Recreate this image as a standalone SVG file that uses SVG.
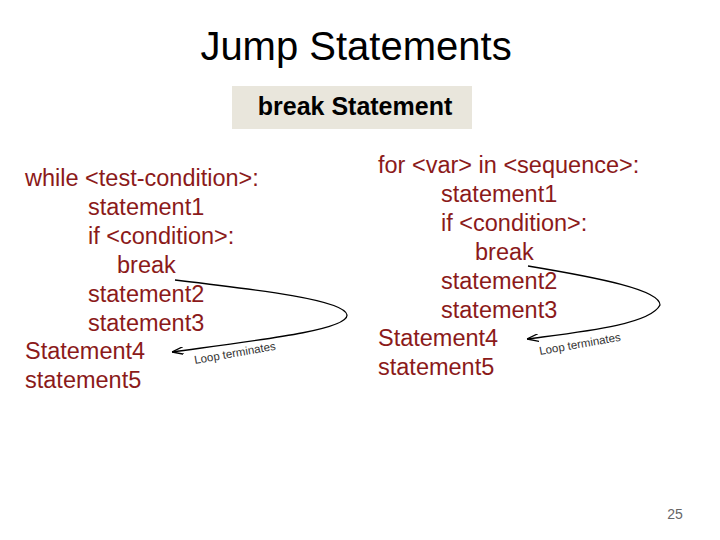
<svg xmlns="http://www.w3.org/2000/svg" width="720" height="540" viewBox="0 0 720 540">
<style>
.c{font-family:"Liberation Sans",Arial,sans-serif;font-size:23.5px;fill:#8b1a1a}
.t{font-family:"Liberation Sans",Arial,sans-serif;fill:#000}
.lt{font-family:"Liberation Sans",Arial,sans-serif;font-size:11.5px;fill:#333}
.a{fill:none;stroke:#000;stroke-width:1.3}
</style>
<defs><marker id="ah" markerWidth="12" markerHeight="8" refX="12" refY="4" orient="auto" markerUnits="userSpaceOnUse"><path d="M0,0 L12,4 L0,8" fill="none" stroke="#000" stroke-width="1.3"/></marker></defs>
<rect width="720" height="540" fill="#fff"/>
<text class="t" x="356" y="60" font-size="40" text-anchor="middle">Jump Statements</text>
<g id="box"><rect x="232" y="86" width="240" height="43" fill="#e9e6dc"/>
<text class="t" x="355" y="115" font-size="25" font-weight="bold" text-anchor="middle">break Statement</text></g>
<g id="left" class="c">
<text x="25" y="186">while &lt;test-condition&gt;:</text>
<text x="88" y="215">statement1</text>
<text x="88" y="244">if &lt;condition&gt;:</text>
<text x="117" y="273">break</text>
<text x="88" y="302">statement2</text>
<text x="88" y="331">statement3</text>
<text x="25" y="359">Statement4</text>
<text x="25" y="388">statement5</text>
</g>
<g id="right" class="c">
<text x="378" y="173">for &lt;var&gt; in &lt;sequence&gt;:</text>
<text x="441" y="202">statement1</text>
<text x="441" y="231">if &lt;condition&gt;:</text>
<text x="475" y="260">break</text>
<text x="441" y="289">statement2</text>
<text x="441" y="318">statement3</text>
<text x="378" y="346">Statement4</text>
<text x="378" y="375">statement5</text>
</g>
<g id="connectors">
<path class="a" d="M175,280 C260,290 345,300 347,315 C348,330 260,340 172,352" marker-end="url(#ah)"/>
<path class="a" d="M528,266 C600,278 660,290 660,305 C650,325 580,332 527,339" marker-end="url(#ah)"/>
</g>
<text class="lt" x="195" y="364" transform="rotate(-10 195 364)">Loop terminates</text>
<text class="lt" x="540" y="355" transform="rotate(-10 540 355)">Loop terminates</text>
<text x="675" y="519" font-family="Liberation Sans,Arial,sans-serif" font-size="14" fill="#666" text-anchor="middle">25</text>
</svg>
